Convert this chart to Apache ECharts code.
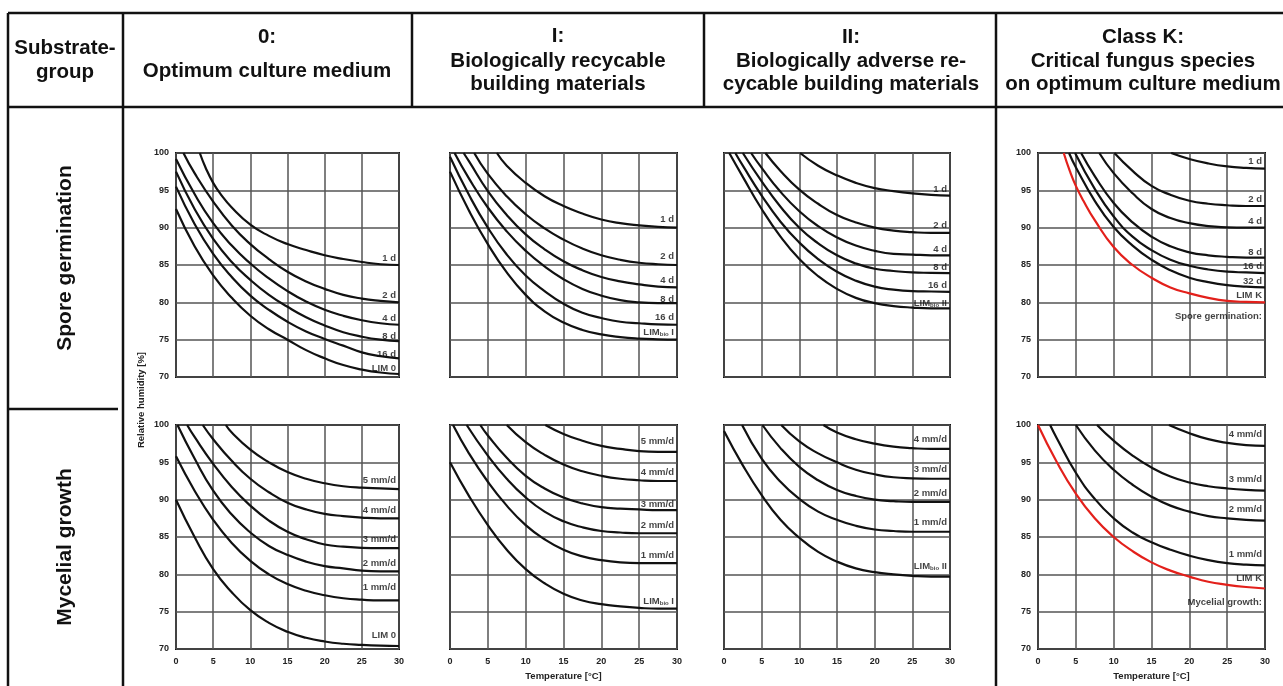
<!DOCTYPE html>
<html>
<head>
<meta charset="utf-8">
<script src="https://cdn.jsdelivr.net/npm/echarts@6/dist/echarts.min.js"></script>
<style>
    html, body { margin: 0; padding: 0; background: #fff; }
    #chart { width: 1283px; height: 686px; }
</style>
</head>
<body>
<div id="chart"></div>
<script>
// ============================================
// 数据
// ============================================
const tempAxis = [0, 30, 5];      // min, max, interval
const rhAxis = [70, 100, 5];

const headerCols = [
    ['Substrate-', 'group'],
    ['0:', 'Optimum culture medium'],
    ['I:', 'Biologically recycable', 'building materials'],
    ['II:', 'Biologically adverse re-', 'cycable building materials'],
    ['Class K:', 'Critical fungus species', 'on optimum culture medium']
];
const rowNames = ['Spore germination', 'Mycelial growth'];
const yAxisName = 'Relative humidity [%]';
const xAxisName = 'Temperature [°C]';

// spore germination, substrate group 0
const spore0 = [
    ['1 d', [[3.2, 100], [4, 98.0], [5, 96.0], [6, 94.5], [7.5, 92.7], [10, 90.4], [12.5, 88.9], [15, 87.8], [17.5, 87.0], [20, 86.3], [22.5, 85.8], [25, 85.4], [27.5, 85.1], [30, 85.0]]],
    ['2 d', [[1.0, 100], [2.5, 97.3], [5, 93.5], [7.5, 90.3], [10, 87.8], [12.5, 85.8], [15, 84.1], [17.5, 82.8], [20, 81.8], [22.5, 81.0], [25, 80.5], [27.5, 80.2], [30, 80.0]]],
    ['4 d', [[0, 99.2], [2.5, 94.5], [5, 90.6], [7.5, 87.6], [10, 85.2], [12.5, 83.2], [15, 81.5], [17.5, 80.1], [20, 79.0], [22.5, 78.2], [25, 77.6], [27.5, 77.2], [30, 77.0]]],
    ['8 d', [[0, 97.5], [2.5, 92.5], [5, 88.5], [7.5, 85.4], [10, 83.0], [12.5, 81.0], [15, 79.4], [17.5, 78.0], [20, 76.9], [22.5, 76.0], [25, 75.4], [27.5, 75.0], [30, 74.8]]],
    ['16 d', [[0, 95.5], [2.5, 90.5], [5, 86.5], [7.5, 83.4], [10, 80.9], [12.5, 79.0], [15, 77.4], [17.5, 76.1], [20, 75.1], [22.5, 74.2], [25, 73.3], [27.5, 72.8], [30, 72.5]]],
    ['LIM 0', [[0, 92.5], [2.5, 87.5], [5, 83.6], [7.5, 80.6], [10, 78.2], [12.5, 76.4], [15, 75.0], [17.5, 73.6], [20, 72.5], [22.5, 71.6], [25, 71.0], [27.5, 70.6], [30, 70.4]]]
];
const spore0Labels = [['1 d', 85.9], ['2 d', 80.9], ['4 d', 77.9], ['8 d', 75.4], ['16 d', 73.0], ['LIM 0', 71.1]];

// spore germination, group I
const sporeI = [
    ['1 d', [[6.2, 100], [7.5, 98.3], [10, 96.0], [12.5, 94.2], [15, 92.9], [17.5, 91.9], [20, 91.1], [22.5, 90.6], [25, 90.3], [27.5, 90.1], [30, 90.0]]],
    ['2 d', [[3.2, 100], [5, 97.2], [7.5, 94.2], [10, 91.8], [12.5, 89.9], [15, 88.4], [17.5, 87.2], [20, 86.3], [22.5, 85.7], [25, 85.3], [27.5, 85.1], [30, 85.0]]],
    ['4 d', [[1.8, 100], [2.5, 98.9], [5, 94.9], [7.5, 91.7], [10, 89.1], [12.5, 87.1], [15, 85.5], [17.5, 84.3], [20, 83.4], [22.5, 82.8], [25, 82.4], [27.5, 82.1], [30, 82.0]]],
    ['8 d', [[0.6, 100], [2.5, 96.6], [5, 92.7], [7.5, 89.5], [10, 86.9], [12.5, 84.8], [15, 83.1], [17.5, 81.8], [20, 80.9], [22.5, 80.3], [25, 80.0], [27.5, 79.9], [30, 79.9]]],
    ['16 d', [[0, 99.5], [2.5, 94.4], [5, 90.0], [7.5, 86.4], [10, 83.6], [12.5, 81.5], [15, 79.8], [17.5, 78.6], [20, 77.9], [22.5, 77.4], [25, 77.2], [27.5, 77.05], [30, 77.0]]],
    ['LIM_bio I', [[0, 97.5], [2.5, 92.3], [5, 87.8], [7.5, 84.0], [10, 81.0], [12.5, 78.8], [15, 77.3], [17.5, 76.3], [20, 75.7], [22.5, 75.35], [25, 75.15], [27.5, 75.05], [30, 75.0]]]
];
const sporeILabels = [['1 d', 91.1], ['2 d', 86.1], ['4 d', 82.9], ['8 d', 80.4], ['16 d', 78.0], ['LIM_bio I', 76.0]];

// spore germination, group II
const sporeII = [
    ['1 d', [[10.1, 100], [12.5, 98.3], [15, 97.0], [17.5, 96.0], [20, 95.3], [22.5, 94.9], [25, 94.6], [27.5, 94.4], [30, 94.3]]],
    ['2 d', [[5.5, 100], [7.5, 97.6], [10, 95.1], [12.5, 93.2], [15, 91.7], [17.5, 90.7], [20, 90.0], [22.5, 89.6], [25, 89.4], [27.5, 89.3], [30, 89.3]]],
    ['4 d', [[3.6, 100], [5, 98.0], [7.5, 94.8], [10, 92.2], [12.5, 90.2], [15, 88.7], [17.5, 87.6], [20, 86.9], [22.5, 86.5], [25, 86.4], [27.5, 86.3], [30, 86.3]]],
    ['8 d', [[2.5, 100], [5, 96.2], [7.5, 92.8], [10, 90.0], [12.5, 87.9], [15, 86.3], [17.5, 85.2], [20, 84.5], [22.5, 84.2], [25, 84.0], [27.5, 83.95], [30, 83.9]]],
    ['16 d', [[1.5, 100], [2.5, 98.3], [5, 94.3], [7.5, 90.8], [10, 88.0], [12.5, 85.8], [15, 84.1], [17.5, 82.9], [20, 82.1], [22.5, 81.7], [25, 81.5], [27.5, 81.45], [30, 81.4]]],
    ['LIM_bio II', [[0.7, 100], [2.5, 96.8], [5, 92.5], [7.5, 88.8], [10, 85.8], [12.5, 83.5], [15, 81.8], [17.5, 80.6], [20, 79.9], [22.5, 79.5], [25, 79.3], [27.5, 79.2], [30, 79.2]]]
];
const sporeIILabels = [['1 d', 95.1], ['2 d', 90.3], ['4 d', 87.1], ['8 d', 84.7], ['16 d', 82.3], ['LIM_bio II', 79.9]];

// spore germination, class K
const sporeK = [
    ['1 d', [[17.6, 100], [20, 99.2], [22.5, 98.6], [25, 98.2], [27.5, 98.0], [30, 97.9]]],
    ['2 d', [[10.1, 100], [12.5, 97.6], [15, 95.6], [17.5, 94.4], [20, 93.6], [22.5, 93.2], [25, 93.0], [27.5, 92.9], [30, 92.9]]],
    ['4 d', [[8.1, 100], [10, 97.3], [12.5, 94.6], [15, 92.5], [17.5, 91.3], [20, 90.6], [22.5, 90.2], [25, 90.05], [27.5, 90.0], [30, 90.0]]],
    ['8 d', [[5.7, 100], [7.5, 96.9], [10, 93.3], [12.5, 90.7], [15, 88.8], [17.5, 87.5], [20, 86.7], [22.5, 86.3], [25, 86.1], [27.5, 86.0], [30, 86.0]]],
    ['16 d', [[4.9, 100], [7.5, 95.2], [10, 91.5], [12.5, 88.8], [15, 87.0], [17.5, 85.7], [20, 84.9], [22.5, 84.4], [25, 84.1], [27.5, 84.0], [30, 83.9]]],
    ['32 d', [[4.1, 100], [5, 98.1], [7.5, 93.6], [10, 90.1], [12.5, 87.6], [15, 85.7], [17.5, 84.3], [20, 83.3], [22.5, 82.7], [25, 82.3], [27.5, 82.1], [30, 82.0]]],
    ['LIM K', [[3.4, 100], [4.2, 97.6], [5, 95.6], [6, 93.6], [7.5, 91.0], [10, 87.4], [12.5, 85.0], [15, 83.3], [17.5, 82.0], [20, 81.2], [22.5, 80.6], [25, 80.2], [27.5, 80.05], [30, 80.0]]]
];
const sporeKLabels = [['1 d', 98.9], ['2 d', 93.8], ['4 d', 90.9], ['8 d', 86.7], ['16 d', 84.8], ['32 d', 82.8], ['LIM K', 80.9], ['Spore germination:', 78.1]];

// mycelial growth, group 0
const myc0 = [
    ['5 mm/d', [[6.7, 100], [7.5, 99.0], [10, 96.7], [12.5, 95.0], [15, 93.7], [17.5, 92.8], [20, 92.2], [22.5, 91.8], [25, 91.6], [27.5, 91.5], [30, 91.4]]],
    ['4 mm/d', [[3.6, 100], [5, 98.1], [7.5, 95.2], [10, 92.8], [12.5, 91.0], [15, 89.6], [17.5, 88.7], [20, 88.1], [22.5, 87.8], [25, 87.6], [27.5, 87.5], [30, 87.5]]],
    ['3 mm/d', [[1.5, 100], [2.5, 98.4], [5, 94.8], [7.5, 91.7], [10, 89.2], [12.5, 87.2], [15, 85.7], [17.5, 84.7], [20, 84.0], [22.5, 83.7], [25, 83.55], [27.5, 83.5], [30, 83.5]]],
    ['2 mm/d', [[0.2, 100], [2.5, 95.5], [5, 91.2], [7.5, 88.0], [10, 85.6], [12.5, 83.8], [15, 82.6], [17.5, 81.7], [20, 81.1], [22.5, 80.8], [25, 80.5], [27.5, 80.4], [30, 80.4]]],
    ['1 mm/d', [[0, 95.8], [2.5, 91.2], [5, 87.3], [7.5, 84.2], [10, 81.8], [12.5, 80.0], [15, 78.7], [17.5, 77.8], [20, 77.2], [22.5, 76.8], [25, 76.6], [27.5, 76.5], [30, 76.5]]],
    ['LIM 0', [[0, 90.0], [2.5, 85.0], [5, 80.7], [7.5, 77.6], [10, 75.2], [12.5, 73.5], [15, 72.3], [17.5, 71.5], [20, 71.0], [22.5, 70.7], [25, 70.55], [27.5, 70.45], [30, 70.4]]]
];
const myc0Labels = [['5 mm/d', 92.6], ['4 mm/d', 88.6], ['3 mm/d', 84.7], ['2 mm/d', 81.5], ['1 mm/d', 78.2], ['LIM 0', 71.8]];

// mycelial growth, group I
const mycI = [
    ['5 mm/d', [[12.6, 100], [15, 98.8], [17.5, 97.9], [20, 97.2], [22.5, 96.8], [25, 96.5], [27.5, 96.4], [30, 96.4]]],
    ['4 mm/d', [[7.5, 100], [10, 97.7], [12.5, 96.0], [15, 94.7], [17.5, 93.8], [20, 93.2], [22.5, 92.8], [25, 92.6], [27.5, 92.5], [30, 92.5]]],
    ['3 mm/d', [[4.0, 100], [5, 98.6], [7.5, 95.6], [10, 93.2], [12.5, 91.5], [15, 90.3], [17.5, 89.5], [20, 89.0], [22.5, 88.8], [25, 88.7], [27.5, 88.6], [30, 88.6]]],
    ['2 mm/d', [[2.2, 100], [5, 95.9], [7.5, 92.8], [10, 90.3], [12.5, 88.4], [15, 87.1], [17.5, 86.3], [20, 85.8], [22.5, 85.6], [25, 85.5], [27.5, 85.5], [30, 85.5]]],
    ['1 mm/d', [[0.4, 100], [2.5, 96.2], [5, 92.4], [7.5, 89.2], [10, 86.6], [12.5, 84.7], [15, 83.3], [17.5, 82.4], [20, 81.9], [22.5, 81.6], [25, 81.5], [27.5, 81.5], [30, 81.5]]],
    ['LIM_bio I', [[0, 95.0], [2.5, 90.5], [5, 86.6], [7.5, 83.3], [10, 80.7], [12.5, 78.8], [15, 77.4], [17.5, 76.5], [20, 76.0], [22.5, 75.7], [25, 75.5], [27.5, 75.4], [30, 75.4]]]
];
const mycILabels = [['5 mm/d', 97.8], ['4 mm/d', 93.6], ['3 mm/d', 89.4], ['2 mm/d', 86.6], ['1 mm/d', 82.6], ['LIM_bio I', 76.4]];

// mycelial growth, group II
const mycII = [
    ['4 mm/d', [[13.2, 100], [15, 99.0], [17.5, 98.1], [20, 97.5], [22.5, 97.1], [25, 96.9], [27.5, 96.8], [30, 96.8]]],
    ['3 mm/d', [[7.6, 100], [10, 97.8], [12.5, 96.2], [15, 95.0], [17.5, 94.0], [20, 93.4], [22.5, 93.0], [25, 92.85], [27.5, 92.8], [30, 92.8]]],
    ['2 mm/d', [[5.1, 100], [7.5, 96.9], [10, 94.4], [12.5, 92.6], [15, 91.3], [17.5, 90.5], [20, 90.0], [22.5, 89.8], [25, 89.7], [27.5, 89.7], [30, 89.7]]],
    ['1 mm/d', [[2.4, 100], [5, 95.5], [7.5, 92.4], [10, 90.1], [12.5, 88.4], [15, 87.3], [17.5, 86.5], [20, 86.0], [22.5, 85.8], [25, 85.7], [27.5, 85.7], [30, 85.7]]],
    ['LIM_bio II', [[0, 99.2], [2.5, 94.6], [5, 90.6], [7.5, 87.3], [10, 84.9], [12.5, 83.0], [15, 81.7], [17.5, 80.8], [20, 80.3], [22.5, 80.0], [25, 79.8], [27.5, 79.7], [30, 79.7]]]
];
const mycIILabels = [['4 mm/d', 98.1], ['3 mm/d', 94.0], ['2 mm/d', 90.8], ['1 mm/d', 86.9], ['LIM_bio II', 81.1]];

// mycelial growth, class K
const mycK = [
    ['4 mm/d', [[17.3, 100], [20, 98.9], [22.5, 98.1], [25, 97.6], [27.5, 97.3], [30, 97.2]]],
    ['3 mm/d', [[7.8, 100], [10, 97.9], [12.5, 95.9], [15, 94.3], [17.5, 93.1], [20, 92.3], [22.5, 91.8], [25, 91.5], [27.5, 91.3], [30, 91.2]]],
    ['2 mm/d', [[5.0, 100], [7.5, 96.6], [10, 94.0], [12.5, 92.0], [15, 90.4], [17.5, 89.2], [20, 88.4], [22.5, 87.8], [25, 87.5], [27.5, 87.3], [30, 87.2]]],
    ['1 mm/d', [[1.6, 100], [2.5, 98.2], [5, 93.6], [7.5, 90.1], [10, 87.5], [12.5, 85.6], [15, 84.3], [17.5, 83.3], [20, 82.5], [22.5, 81.9], [25, 81.5], [27.5, 81.3], [30, 81.2]]],
    ['LIM K', [[0, 100], [2.5, 95.0], [5, 90.8], [7.5, 87.5], [10, 85.0], [12.5, 83.1], [15, 81.6], [17.5, 80.5], [20, 79.7], [22.5, 79.0], [25, 78.6], [27.5, 78.3], [30, 78.1]]]
];
const mycKLabels = [['4 mm/d', 98.8], ['3 mm/d', 92.7], ['2 mm/d', 88.7], ['1 mm/d', 82.7], ['LIM K', 79.4], ['Mycelial growth:', 76.3]];

// ============================================
// 布局
// ============================================
const FONT = '"Liberation Sans", Arial, Helvetica, sans-serif';
const INK = '#111';
const RED = '#e3201b';

const colLeft = [176, 450, 724, 1038];
const colWidth = [223, 227, 226, 227];
const rowTop = [153, 425];
const plotHeight = 224;

const panels = [
    { curves: spore0, labels: spore0Labels, row: 0, col: 0 },
    { curves: sporeI, labels: sporeILabels, row: 0, col: 1 },
    { curves: sporeII, labels: sporeIILabels, row: 0, col: 2 },
    { curves: sporeK, labels: sporeKLabels, row: 0, col: 3 },
    { curves: myc0, labels: myc0Labels, row: 1, col: 0 },
    { curves: mycI, labels: mycILabels, row: 1, col: 1 },
    { curves: mycII, labels: mycIILabels, row: 1, col: 2 },
    { curves: mycK, labels: mycKLabels, row: 1, col: 3 }
];

function labelText(t) {
    if (t.indexOf('_bio') >= 0) {
        const p = t.split('_bio');
        return '{m|' + p[0] + '}{s|bio}{m|' + p[1] + '}';
    }
    return '{m|' + t + '}';
}

const grids = [], xAxes = [], yAxes = [], series = [];

panels.forEach((p, i) => {
    grids.push({
        left: colLeft[p.col], top: rowTop[p.row],
        width: colWidth[p.col], height: plotHeight,
        show: true, borderColor: INK, borderWidth: 2, backgroundColor: '#fff'
    });
    const showY = p.col === 0 || p.col === 3;
    const showX = p.row === 1;
    xAxes.push({
        type: 'value', gridIndex: i,
        min: tempAxis[0], max: tempAxis[1], interval: tempAxis[2],
        axisLine: { show: false }, axisTick: { show: false },
        axisLabel: { show: showX, margin: 8, fontSize: 9, fontWeight: 'bold', color: '#222', fontFamily: FONT },
        splitLine: { show: true, lineStyle: { color: '#555', width: 1.5 } },
        name: showX && (p.col === 1 || p.col === 3) ? xAxisName : '',
        nameLocation: 'middle', nameGap: 22,
        nameTextStyle: { fontSize: 9.5, fontWeight: 'bold', color: '#222', fontFamily: FONT }
    });
    yAxes.push({
        type: 'value', gridIndex: i,
        min: rhAxis[0], max: rhAxis[1], interval: rhAxis[2],
        axisLine: { show: false }, axisTick: { show: false },
        axisLabel: { show: showY, margin: 7, fontSize: 9, fontWeight: 'bold', color: '#222', fontFamily: FONT },
        splitLine: { show: true, lineStyle: { color: '#555', width: 1.5 } }
    });

    // 曲线
    p.curves.forEach(c => {
        series.push({
            type: 'line', name: c[0], xAxisIndex: i, yAxisIndex: i,
            data: c[1], smooth: 0.5,
            symbol: 'none', silent: true, clip: true,
            lineStyle: { color: c[0] === 'LIM K' ? RED : INK, width: 2.2 },
            z: 3
        });
    });

    // 曲线标签
    series.push({
        type: 'scatter', xAxisIndex: i, yAxisIndex: i,
        data: p.labels.map(l => [tempAxis[1], l[1], l[0]]),
        symbolSize: 0, silent: true, z: 5,
        label: {
            show: true, position: 'left', distance: 3,
            formatter: params => labelText(params.value[2]),
            rich: {
                m: { fontSize: 9.5, fontWeight: 'bold', color: INK, fontFamily: FONT },
                s: { fontSize: 6, fontWeight: 'bold', color: INK, fontFamily: FONT, padding: [5, 0, 0, 0] }
            }
        }
    });
});

// ============================================
// 表格线和文字
// ============================================
const tableLines = [
    [8, 13, 1283, 13], [8, 107, 1283, 107],
    [8, 13, 8, 686], [123, 13, 123, 686],
    [412, 13, 412, 107], [704, 13, 704, 107],
    [996, 13, 996, 686], [8, 409, 118, 409]
];
const headerX = [65, 267, 558, 851, 1143];
const headerY = [[48, 72], [37, 71], [36, 61, 84], [37, 61, 84], [37, 61, 84]];

const graphic = [];
tableLines.forEach(l => {
    graphic.push({
        type: 'line', shape: { x1: l[0], y1: l[1], x2: l[2], y2: l[3] },
        style: { stroke: INK, lineWidth: 2.5 }, z: 10
    });
});
headerCols.forEach((col, ci) => {
    col.forEach((t, li) => {
        graphic.push({
            type: 'text', x: headerX[ci], y: headerY[ci][li],
            style: { text: t, align: 'center', verticalAlign: 'middle', fontSize: 20.5, fontWeight: 'bold', fontFamily: FONT, fill: INK }
        });
    });
});
[[65, 258], [65, 547]].forEach((pos, ri) => {
    graphic.push({
        type: 'text', x: pos[0], y: pos[1], rotation: Math.PI / 2,
        style: { text: rowNames[ri], align: 'center', verticalAlign: 'middle', fontSize: 21, fontWeight: 'bold', fontFamily: FONT, fill: INK }
    });
});
graphic.push({
    type: 'text', x: 141, y: 400, rotation: Math.PI / 2,
    style: { text: yAxisName, align: 'center', verticalAlign: 'middle', fontSize: 9.5, fontWeight: 'bold', fontFamily: FONT, fill: '#222' }
});

const chart = echarts.init(document.getElementById('chart'));
chart.setOption({
    animation: false,
    backgroundColor: '#fff',
    grid: grids,
    xAxis: xAxes,
    yAxis: yAxes,
    series: series,
    graphic: graphic
});
</script>
</body>
</html>
